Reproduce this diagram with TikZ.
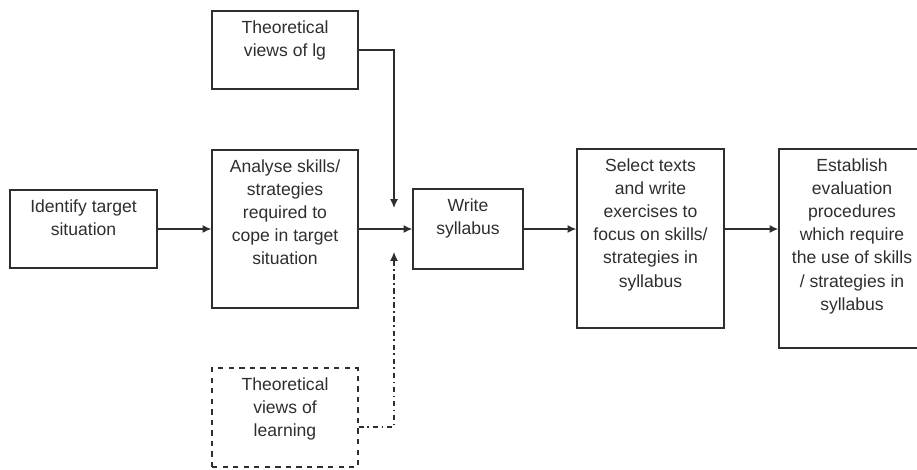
\documentclass[tikz,border=0pt]{standalone}
\usepackage{fontspec}
\setmainfont{Liberation Sans}
\usetikzlibrary{positioning,arrows.meta}
\definecolor{ink}{HTML}{2E2E2E}
\begin{document}
\begin{tikzpicture}[
  box/.style={draw=ink, line width=0.75pt, inner sep=0pt},
  txt/.style={anchor=north, align=center, inner xsep=0pt, inner ysep=5.5pt,
    text=ink, font=\fontsize{10}{13.2}\selectfont},
  arr/.style={draw=ink, line width=0.75pt, -{Latex[length=5pt,width=4.5pt]}}]
\useasboundingbox (0,0) rectangle (18.34,-9.38);
\clip (0,0) rectangle (18.34,-9.38);
\node[box, minimum width=2.94cm, minimum height=1.56cm] (ident) at (1.67,-4.58) {};
\node[box, minimum width=2.92cm, minimum height=3.16cm] (analyse) at (5.70,-4.58) {};
\node[box, minimum width=2.92cm, minimum height=1.56cm] (lg) at (5.70,-1.00) {};
\node[box, dashed, minimum width=2.92cm, minimum height=1.98cm] (learning) at (5.70,-8.35) {};
\node[box, minimum width=2.20cm, minimum height=1.60cm] (write) at (9.36,-4.58) {};
\node[box, minimum width=2.94cm, minimum height=3.58cm] (select) at (13.01,-4.77) {};
\node[box, minimum width=2.92cm, minimum height=3.98cm] (establish) at (17.04,-4.97) {};
\node[txt] (identtxt) at (ident.north) {Identify target\\situation};
\node[txt] (analysetxt) at (analyse.north) {Analyse skills/\\strategies\\required to\\cope in target\\situation};
\node[txt] (lgtxt) at (lg.north) {Theoretical\\views of lg};
\node[txt] (learningtxt) at (learning.north) {Theoretical\\views of\\learning};
\node[txt] (writetxt) at (write.north) {Write\\syllabus};
\node[txt] (selecttxt) at (select.north) {Select texts\\and write\\exercises to\\focus on skills/\\strategies in\\syllabus};
\node[txt] (establishtxt) at (establish.north) {Establish\\evaluation\\procedures\\which require\\the use of skills\\/ strategies in\\syllabus};
\coordinate (meet) at (7.88,-4.58);
\draw[arr] (ident) -- (analyse);
\draw[arr] (analyse) -- (write);
\draw[arr] (write.east) -- (write.east -| select.west);
\draw[arr] (write.east -| select.east) -- (write.east -| establish.west);
\draw[arr] (lg.east) -| ([yshift=0.42cm]meet);
\draw[arr, dash pattern=on 3pt off 2pt on 1pt off 2pt] ([yshift=-0.19cm]learning.east) -| ([yshift=-0.46cm]meet);
\end{tikzpicture}
\end{document}
